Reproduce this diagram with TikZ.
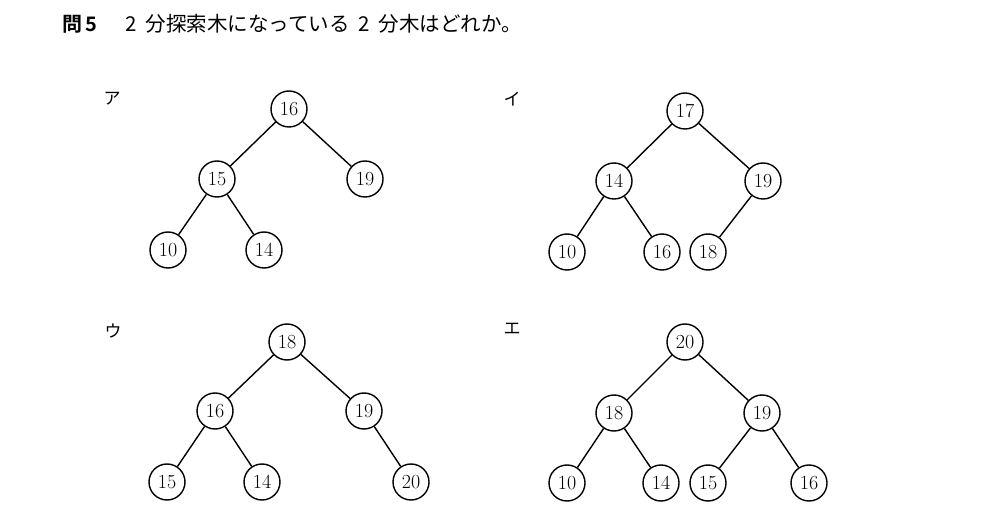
\documentclass[tikz,border=0pt]{standalone}
\usepackage{fontspec}
\newfontfamily\cjk{Noto Sans CJK JP}
\newfontfamily\cjkb{Noto Sans CJK JP Bold}
\begin{document}
\begin{tikzpicture}[x=1pt,y=-1pt,
  nd/.style={circle,draw,line width=1.4pt,minimum size=36pt,inner sep=0pt,font=\fontsize{20}{20}\selectfont},
  edge/.style={line width=1.4pt},
  lbl/.style={font=\cjk\fontsize{17}{17}\selectfont,inner sep=0pt},
  ttl/.style={font=\cjk\fontsize{20.5}{20.5}\selectfont,inner sep=0pt,anchor=west}]
\useasboundingbox (0,0) rectangle (988,526);
\node[ttl,font=\cjkb\fontsize{20}{20}\selectfont] (t1) at (62,24) {問\hspace{3pt}5};
\node[ttl] (t2) at (125,24) {2\hspace{9pt}分探索木になっている\hspace{9pt}2\hspace{9pt}分木はどれか。};
% tree A
\node[lbl] (la) at (112,99) {ア};
\node[nd] (a1) at (289,109) {16};
\node[nd] (a2) at (217,179) {15};
\node[nd] (a3) at (365,179) {19};
\node[nd] (a4) at (168,250) {10};
\node[nd] (a5) at (264,250) {14};
\draw[edge] (a1)--(a2) (a1)--(a3) (a2)--(a4) (a2)--(a5);
% tree I
\node[lbl] (li) at (512,99) {イ};
\node[nd] (b1) at (685,111) {17};
\node[nd] (b2) at (614,181) {14};
\node[nd] (b3) at (763,181) {19};
\node[nd] (b4) at (567,252) {10};
\node[nd] (b5) at (662,252) {16};
\node[nd] (b6) at (708,252) {18};
\draw[edge] (b1)--(b2) (b1)--(b3) (b2)--(b4) (b2)--(b5) (b3)--(b6);
% tree U
\node[lbl] (lu) at (113,331) {ウ};
\node[nd] (c1) at (287,342) {18};
\node[nd] (c2) at (215,411) {16};
\node[nd] (c3) at (364,411) {19};
\node[nd] (c4) at (167,482) {15};
\node[nd] (c5) at (262,482) {14};
\node[nd] (c6) at (411,482) {20};
\draw[edge] (c1)--(c2) (c1)--(c3) (c2)--(c4) (c2)--(c5) (c3)--(c6);
% tree E
\node[lbl] (le) at (512,329) {エ};
\node[nd] (d1) at (685,342) {20};
\node[nd] (d2) at (614,413) {18};
\node[nd] (d3) at (762,413) {19};
\node[nd] (d4) at (567,483) {10};
\node[nd] (d5) at (661,483) {14};
\node[nd] (d6) at (708,483) {15};
\node[nd] (d7) at (809,483) {16};
\draw[edge] (d1)--(d2) (d1)--(d3) (d2)--(d4) (d2)--(d5) (d3)--(d6) (d3)--(d7);
\end{tikzpicture}
\end{document}
